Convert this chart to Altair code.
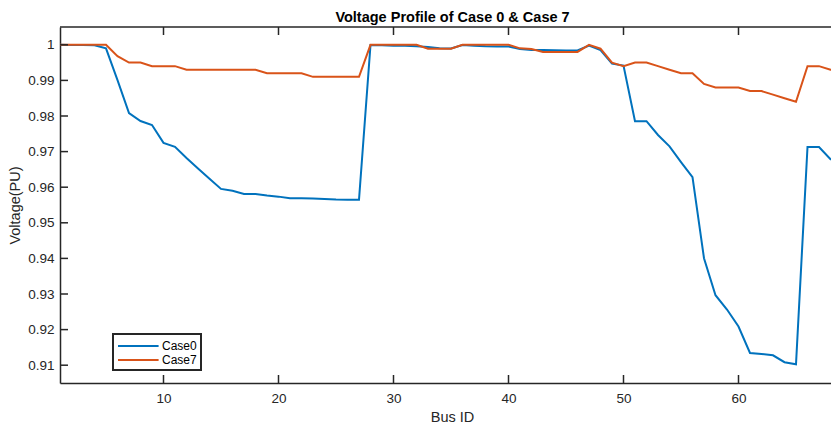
import altair as alt
import pandas as pd

bus = list(range(1, 70))
case0 = [1.0000, 0.99997, 0.99993, 0.99984, 0.99902, 0.99009, 0.98079, 0.97858, 0.97745, 0.97245,
         0.97135, 0.96819, 0.96526, 0.96237, 0.95952, 0.95899, 0.95811, 0.95810, 0.95764, 0.95735,
         0.95688, 0.95687, 0.95681, 0.95667, 0.95653, 0.95647, 0.95645, 0.99993, 0.99985, 0.99973,
         0.99971, 0.99961, 0.99935, 0.99901, 0.99895, 0.99992, 0.99975, 0.99959, 0.99954, 0.99954,
         0.99884, 0.99855, 0.99851, 0.99850, 0.99841, 0.99840, 0.99979, 0.99854, 0.99470, 0.99415,
         0.97854, 0.97853, 0.97466, 0.97146, 0.96706, 0.96281, 0.94005, 0.92966, 0.92563, 0.92087,
         0.91344, 0.91315, 0.91277, 0.91084, 0.91025, 0.97129, 0.97129, 0.96786, 0.96786]
case7 = [1.0, 1.0, 1.0, 1.0, 1.0, 0.9968, 0.995, 0.995, 0.994, 0.994,
         0.994, 0.993, 0.993, 0.993, 0.993, 0.993, 0.993, 0.993, 0.992, 0.992,
         0.992, 0.992, 0.991, 0.991, 0.991, 0.991, 0.991, 1.0, 1.0, 1.0,
         1.0, 1.0, 0.9989, 0.9989, 0.9989, 1.0, 1.0, 1.0, 1.0, 1.0,
         0.999, 0.9988, 0.998, 0.998, 0.998, 0.998, 1.0, 0.9989, 0.995, 0.994,
         0.995, 0.995, 0.994, 0.993, 0.992, 0.992, 0.989, 0.988, 0.988, 0.988,
         0.987, 0.987, 0.986, 0.985, 0.984, 0.994, 0.994, 0.993, 0.993]
series_names = ["Case0", "Case7"]
series_colors = ["#0072BD", "#D95319"]
x_ticks = [10, 20, 30, 40, 50, 60]
y_ticks = [0.91, 0.92, 0.93, 0.94, 0.95, 0.96, 0.97, 0.98, 0.99, 1.0]

W, H = 771, 356
FONT = "Liberation Sans"
AX = "#262626"

df = pd.DataFrame({
    "bus": bus * 2,
    "v": case0 + case7,
    "case": [series_names[0]] * len(bus) + [series_names[1]] * len(bus),
})

xscale = alt.Scale(domain=[1, 1 + W / 11.5], nice=False, zero=False)
yscale = alt.Scale(domain=[0.905, 1.005], nice=False, zero=False)
x_axis = alt.Axis(values=x_ticks, title="Bus ID", labelPadding=8, titlePadding=6, titleX=392)
y_axis = alt.Axis(values=y_ticks, title="Voltage(PU)", labelPadding=6, titlePadding=5,
                  labelExpr="datum.value == 1 ? '1' : format(datum.value, '.2f')")

lines = alt.Chart(df).mark_line(strokeWidth=2, clip=True).encode(
    x=alt.X("bus:Q", scale=xscale, axis=x_axis),
    y=alt.Y("v:Q", scale=yscale, axis=y_axis),
    color=alt.Color("case:N", scale=alt.Scale(domain=series_names, range=series_colors),
                    legend=alt.Legend(title=None, orient="none", legendX=53, legendY=307,
                                      padding=4, rowPadding=0,
                                      strokeColor=AX, fillColor="white",
                                      symbolType="M-1,0H4.8", symbolSize=196,
                                      symbolStrokeWidth=2, labelOffset=29,
                                      labelFontSize=12, labelFont=FONT,
                                      labelColor="#000000")),
)

xt = pd.DataFrame({"bus": x_ticks})
yt = pd.DataFrame({"v": y_ticks})
tick_style = dict(color=AX, strokeWidth=1.5)

bottom_ticks = alt.Chart(xt).mark_rule(**tick_style).encode(
    x=alt.X("bus:Q", scale=xscale, axis=x_axis), y=alt.value(H), y2=alt.value(H - 8))
top_ticks = alt.Chart(xt).mark_rule(**tick_style).encode(
    x=alt.X("bus:Q", scale=xscale, axis=x_axis), y=alt.value(0), y2=alt.value(8))
left_ticks = alt.Chart(yt).mark_rule(**tick_style).encode(
    y=alt.Y("v:Q", scale=yscale, axis=y_axis), x=alt.value(0), x2=alt.value(8))
top_border = alt.Chart(pd.DataFrame({"d": [0]})).mark_rule(color=AX, strokeWidth=1.5).encode(
    x=alt.value(0), x2=alt.value(W), y=alt.value(0))

chart = alt.layer(lines, bottom_ticks, top_ticks, left_ticks, top_border).properties(
    width=W, height=H,
    title=alt.TitleParams("Voltage Profile of Case 0 & Case 7", font=FONT, fontSize=14.5,
                          fontWeight="bold", color="#000000", anchor="middle", dx=7, offset=1),
    autosize=alt.AutoSizeParams(type="none"),
    padding={"left": 60, "top": 27, "right": 0, "bottom": 42},
).configure_view(stroke=None).configure_axis(
    domain=True, domainColor=AX, domainWidth=1.5, ticks=False, grid=False,
    labelFont=FONT, labelFontSize=13.5, labelColor=AX,
    titleFont=FONT, titleFontSize=14.5, titleColor=AX, titleFontWeight="normal",
).configure_legend(strokeWidth=2)

chart.save("out.html", embed_options={"renderer": "svg", "actions": False})
